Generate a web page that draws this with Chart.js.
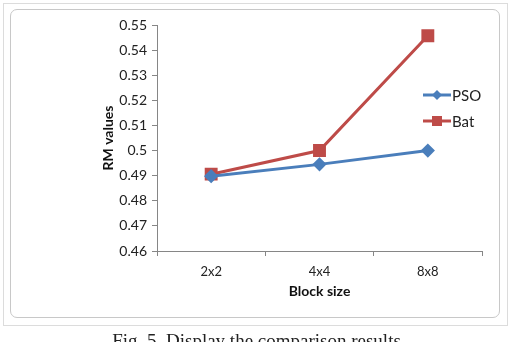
<!DOCTYPE html>
<html>
<head>
<meta charset="utf-8">
<script src="https://cdn.jsdelivr.net/npm/chart.js@4/dist/chart.umd.min.js"></script>
<style>
  html, body { margin: 0; padding: 0; background: #fff; overflow: hidden; }
  #wrap { position: relative; width: 513px; height: 342px; overflow: hidden; }
  #frame { position: absolute; left: 10px; top: 9px; width: 488px; height: 307px;
           border: 1px solid #c8c8c8; border-radius: 7px; }
  #sheet { position: absolute; left: 3px; top: 3px; width: 503px; height: 321px; border: 1px solid #dcdcdc; }
  #caption { position: absolute; left: 0; width: 513px; top: 330px; text-align: center;
             font-family: "Liberation Serif", serif; font-size: 19px; color: #222; }
  canvas { position: absolute; left: 0; top: 0; }
</style>
</head>
<body>
<div id="wrap">
  <div id="sheet"></div>
  <div id="frame"></div>
  <canvas id="chart" width="513" height="342"></canvas>
  <div id="caption">Fig. 5. Display the comparison results</div>
</div>
<script>
// 資料
const categories = ['2x2', '4x4', '8x8'];
const psoValues = [0.4898, 0.4945, 0.5];
const batValues = [0.4906, 0.5, 0.5457];
const yTicks = [0.46, 0.47, 0.48, 0.49, 0.5, 0.51, 0.52, 0.53, 0.54, 0.55];

const blue = '#4a7ebb';
const red = '#be4b48';
const font = '"Lato", "Open Sans", sans-serif';

// 自己畫圖例 (放在圖表區域內右側)
const legendPlugin = {
  id: 'innerLegend',
  afterDatasetsDraw(chart) {
    const ctx = chart.ctx;
    const items = chart.data.datasets;
    ctx.save();
    items.forEach((ds, i) => {
      const y = 95 + i * 26;
      const x0 = 423, x1 = 451;
      ctx.strokeStyle = ds.borderColor;
      ctx.lineWidth = 3;
      ctx.beginPath();
      ctx.moveTo(x0, y);
      ctx.lineTo(x1, y);
      ctx.stroke();
      ctx.fillStyle = ds.backgroundColor;
      if (ds.pointStyle === 'rect') {
        ctx.fillRect(437 - 5, y - 5, 10, 10);
      } else {
        ctx.beginPath();
        ctx.moveTo(437, y - 5);
        ctx.lineTo(442, y);
        ctx.lineTo(437, y + 5);
        ctx.lineTo(432, y);
        ctx.closePath();
        ctx.fill();
      }
      ctx.fillStyle = '#222';
      ctx.font = '15px ' + font;
      ctx.textBaseline = 'middle';
      ctx.fillText(ds.label, 452, y + 1);
    });
    ctx.restore();
  }
};

new Chart(document.getElementById('chart'), {
  type: 'line',
  data: {
    labels: categories,
    datasets: [
      {
        label: 'PSO',
        data: psoValues,
        borderColor: blue,
        backgroundColor: blue,
        borderWidth: 3,
        pointStyle: 'rectRot',
        pointRadius: 5,
        pointHoverRadius: 5,
        tension: 0
      },
      {
        label: 'Bat',
        data: batValues,
        borderColor: red,
        backgroundColor: red,
        borderWidth: 3,
        pointStyle: 'rect',
        pointRadius: 7,
        pointHoverRadius: 7,
        tension: 0
      }
    ]
  },
  options: {
    responsive: false,
    animation: false,
    events: [],
    layout: { padding: { left: 100, top: 25, right: 31, bottom: 38 } },
    plugins: { legend: { display: false }, tooltip: { enabled: false } },
    scales: {
      x: {
        offset: true,
        grid: { display: true, drawOnChartArea: false, offset: true, tickLength: 5, color: '#868686' },
        border: { color: '#868686', width: 1 },
        ticks: { color: '#222', font: { family: font, size: 13 }, padding: 8 },
        title: { display: true, text: 'Block size', color: '#111', font: { family: font, size: 14, weight: 'bold' }, padding: { top: 3 } },
        afterFit(axis) { axis.height = 53; }
      },
      y: {
        min: 0.46,
        max: 0.55,
        afterBuildTicks(axis) { axis.ticks = yTicks.map(v => ({ value: v })); },
        grid: { display: true, drawOnChartArea: false, tickLength: 5, color: '#868686' },
        border: { color: '#868686', width: 1 },
        ticks: {
          color: '#222',
          font: { family: font, size: 14 },
          padding: 5,
          callback: v => String(+v.toFixed(2))
        },
        title: { display: true, text: 'RM values', color: '#111', font: { family: font, size: 14, weight: 'bold' }, padding: 0 },
        afterFit(axis) { axis.width = 57; }
      }
    }
  },
  plugins: [legendPlugin]
});
</script>
</body>
</html>
